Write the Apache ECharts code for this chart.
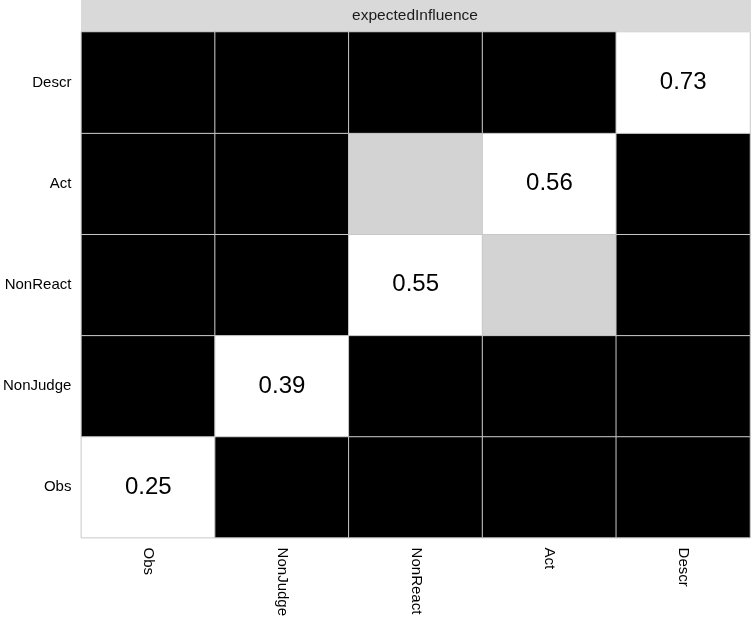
<!DOCTYPE html>
<html>
<head>
<meta charset="utf-8">
<script src="https://cdn.jsdelivr.net/npm/echarts@6/dist/echarts.min.js"></script>
<style>html,body{margin:0;padding:0;background:#fff}#c{width:751px;height:619px}</style>
</head>
<body>
<div id="c"></div>
<script>
const categories = ['Obs', 'NonJudge', 'NonReact', 'Act', 'Descr'];
const centrality = [0.25, 0.39, 0.55, 0.56, 0.73];
const stripTitle = 'expectedInfluence';
// significance of difference: row index = y category, column index = x category; 1 = significant, 0 = not
const sigMatrix = [
  [1, 1, 1, 1, 1],
  [1, 1, 1, 1, 1],
  [1, 1, 1, 0, 1],
  [1, 1, 0, 1, 1],
  [1, 1, 1, 1, 1]
];

const data = [];
for (let y = 0; y < categories.length; y++) {
  for (let x = 0; x < categories.length; x++) {
    let color, label = false, val;
    if (x === y) { color = '#ffffff'; label = true; val = centrality[x]; }
    else { color = sigMatrix[y][x] ? '#000000' : '#d3d3d3'; val = sigMatrix[y][x]; }
    data.push({ value: [x, y, val], itemStyle: { color: color }, label: { show: label } });
  }
}

const chart = echarts.init(document.getElementById('c'));
const font = 'Liberation Sans, Arial, Helvetica, sans-serif';
chart.setOption({
  animation: false,
  textStyle: { fontFamily: font },
  grid: { left: 81, top: 32, right: 1, bottom: 81 },
  graphic: [
    { type: 'rect', left: 81, top: 0, shape: { width: 670, height: 31 }, style: { fill: '#d9d9d9' } },
    { type: 'text', x: 415, y: 16, style: { text: stripTitle, fill: '#1a1a1a', font: '15.5px ' + font, textAlign: 'center', textVerticalAlign: 'middle' } }
  ],
  xAxis: {
    type: 'category', data: categories,
    axisLine: { show: false }, axisTick: { show: false }, splitLine: { show: false },
    axisLabel: { rotate: -90, color: '#000', fontSize: 15, fontFamily: font, margin: 10 }
  },
  yAxis: {
    type: 'category', data: categories,
    axisLine: { show: false }, axisTick: { show: false }, splitLine: { show: false },
    axisLabel: { color: '#000', fontSize: 15, fontFamily: font, margin: 10 }
  },
  series: [{
    type: 'heatmap',
    data: data,
    itemStyle: { borderColor: '#c8c8c8', borderWidth: 1 },
    label: {
      color: '#000', fontSize: 24, fontFamily: font,
      formatter: p => p.value[2].toFixed(2)
    },
    emphasis: { disabled: true }
  }]
});
</script>
</body>
</html>
